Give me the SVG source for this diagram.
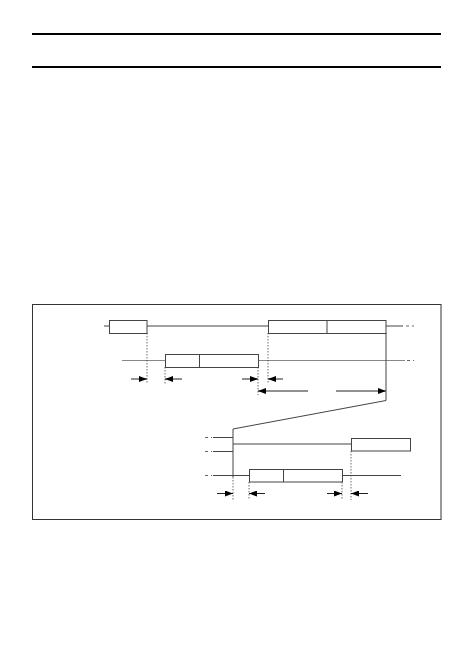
<svg xmlns="http://www.w3.org/2000/svg" width="474" height="671" viewBox="0 0 474 671">
<defs>
<style>
.ln{stroke:#444;stroke-width:1;fill:none}
.lg{stroke:#888;stroke-width:1;fill:none}
.bx{stroke:#444;stroke-width:1;fill:#fff}
.dt{stroke:#444;stroke-width:0.8;stroke-dasharray:1.5,1.5;fill:none}
.dd{stroke:#666;stroke-width:1;stroke-dasharray:3,3;fill:none}
.ar{stroke:#222;stroke-width:1;fill:none;marker-end:url(#ah)}
</style>
<marker id="ah" viewBox="0 0 8 6" refX="8" refY="3" markerWidth="8" markerHeight="6" markerUnits="userSpaceOnUse" orient="auto">
<path d="M0,0 L8,3 L0,6 z" fill="#000"/>
</marker>
</defs>
<rect width="474" height="671" fill="#fff"/>
<line x1="32" y1="34" x2="441" y2="34" stroke="#000" stroke-width="2"/>
<line x1="32" y1="67" x2="441" y2="67" stroke="#000" stroke-width="2"/>
<rect x="32.5" y="304.5" width="408.5" height="215" fill="none" stroke="#333" stroke-width="1"/>
<g id="connectors">
<line class="ln" x1="104" y1="326" x2="109" y2="326"/>
<line class="ln" x1="147" y1="326" x2="268" y2="326"/>
<line class="ln" x1="386" y1="326" x2="403" y2="326"/>
<line class="dd" x1="406" y1="326" x2="414" y2="326"/>
<line class="lg" x1="122" y1="360.5" x2="165" y2="360.5"/>
<line class="lg" x1="258" y1="360.5" x2="405" y2="360.5"/>
<line class="dd" x1="407" y1="360.5" x2="414" y2="360.5"/>
<line class="dt" x1="147" y1="333" x2="147" y2="384"/>
<line class="dt" x1="165" y1="367" x2="165" y2="384"/>
<line class="dt" x1="258" y1="367" x2="258" y2="395"/>
<line class="dt" x1="268" y1="333" x2="268" y2="384"/>
<line class="ar" x1="131" y1="379" x2="147" y2="379"/>
<line class="ar" x1="182" y1="379" x2="165" y2="379"/>
<line class="ar" x1="242" y1="379" x2="258" y2="379"/>
<line class="ar" x1="283" y1="379" x2="268" y2="379"/>
<line class="ar" x1="308" y1="391" x2="258" y2="391"/>
<line class="ar" x1="336" y1="391" x2="386" y2="391"/>
<polyline class="ln" points="386,333 386,400.5 233,429 233,477"/>
<line class="dd" x1="205" y1="437.5" x2="212" y2="437.5"/>
<line class="ln" x1="213" y1="437.5" x2="233" y2="437.5"/>
<line class="dd" x1="205" y1="451.5" x2="212" y2="451.5"/>
<line class="ln" x1="213" y1="451.5" x2="233" y2="451.5"/>
<line class="ln" x1="233" y1="444" x2="351" y2="444"/>
<line class="dd" x1="205" y1="475.5" x2="212" y2="475.5"/>
<line class="ln" x1="213" y1="475.5" x2="249" y2="475.5"/>
<line class="ln" x1="342" y1="475.5" x2="401" y2="475.5"/>
<line class="dt" x1="233" y1="477" x2="233" y2="500"/>
<line class="dt" x1="249" y1="482" x2="249" y2="500"/>
<line class="dt" x1="342" y1="482" x2="342" y2="500"/>
<line class="dt" x1="351" y1="451" x2="351" y2="500"/>
<line class="ar" x1="217" y1="493.5" x2="233" y2="493.5"/>
<line class="ar" x1="265" y1="493.5" x2="249" y2="493.5"/>
<line class="ar" x1="327" y1="493.5" x2="342" y2="493.5"/>
<line class="ar" x1="368" y1="493.5" x2="351" y2="493.5"/>
</g>
<g id="box1"><rect class="bx" x="109.5" y="320.5" width="37.5" height="13"/></g>
<g id="box2"><rect class="bx" x="165.5" y="354.5" width="93" height="13"/><line class="ln" x1="199.5" y1="354.5" x2="199.5" y2="367.5"/></g>
<g id="box3"><rect class="bx" x="268.5" y="320.5" width="117.5" height="13"/><line class="ln" x1="327" y1="320.5" x2="327" y2="333.5"/></g>
<g id="box4"><rect class="bx" x="351.5" y="438.5" width="59" height="12.5"/></g>
<g id="box5"><rect class="bx" x="249.5" y="469.5" width="93" height="12.5"/><line class="ln" x1="283.5" y1="469.5" x2="283.5" y2="482"/></g>
</svg>
